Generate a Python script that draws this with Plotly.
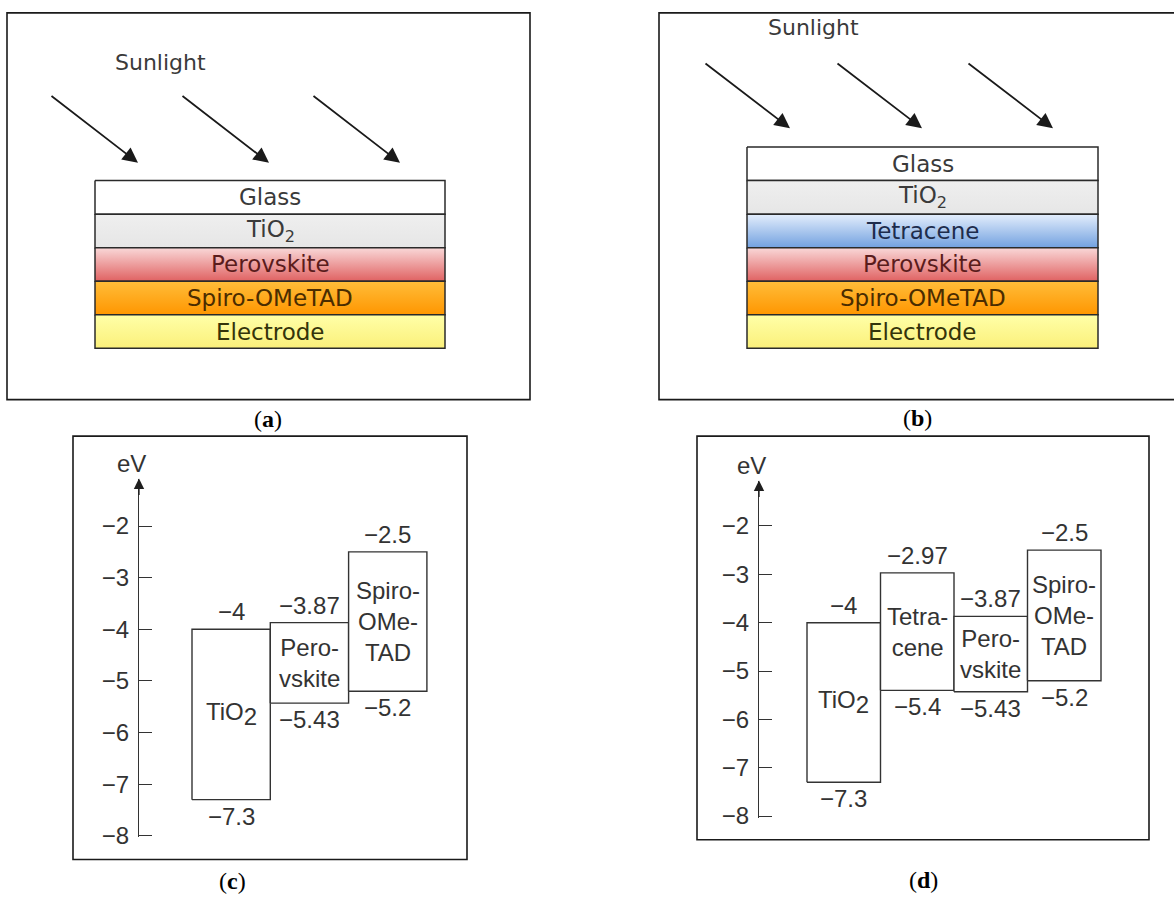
import plotly.graph_objects as go

W, H = 1174, 907

# ---------------- data ----------------
stack_a = ["Glass", "TiO2", "Perovskite", "Spiro-OMeTAD", "Electrode"]
stack_b = ["Glass", "TiO2", "Tetracene", "Perovskite", "Spiro-OMeTAD", "Electrode"]

materials_c = ["TiO2", "Perovskite", "Spiro-OMeTAD"]
lumo_c = [-4.0, -3.87, -2.5]
homo_c = [-7.3, -5.43, -5.2]

materials_d = ["TiO2", "Tetracene", "Perovskite", "Spiro-OMeTAD"]
lumo_d = [-4.0, -2.97, -3.87, -2.5]
homo_d = [-7.3, -5.4, -5.43, -5.2]

energy_ticks = [-8, -7, -6, -5, -4, -3, -2]
energy_unit = "eV"
sun_label = "Sunlight"
panel_tags = ["a", "b", "c", "d"]

# ---------------- styles ----------------
# (top colour, bottom colour) of each layer's vertical gradient
LAYER_FILL = {
    "Glass": ("#ffffff", "#ffffff"),
    "TiO2": ("#efefef", "#e6e6e6"),
    "Tetracene": ("#e4eefc", "#72a1e0"),
    "Perovskite": ("#f9d8d8", "#e06262"),
    "Spiro-OMeTAD": ("#ffbd3a", "#ff9600"),
    "Electrode": ("#ffffa8", "#fbf07a"),
}
LAYER_INK = {
    "Glass": "#3a3a3a",
    "TiO2": "#3a3a3a",
    "Tetracene": "#1d2c4c",
    "Perovskite": "#5a1c1c",
    "Spiro-OMeTAD": "#4a2c00",
    "Electrode": "#34340a",
}
LAYER_TEXT = {"TiO2": "TiO<sub>2</sub>"}
BOX_TEXT = {
    "TiO2": "TiO<sub><span style='font-size:24px'>2</span></sub>",
    "Tetracene": "Tetra-<br>cene",
    "Perovskite": "Pero-<br>vskite",
    "Spiro-OMeTAD": "Spiro-<br>OMe-<br>TAD",
}
SANS = "Liberation Sans, Arial, sans-serif"
WIDE = "DejaVu Sans, sans-serif"
SERIF = "Liberation Serif, Times New Roman, serif"
INK = "#333333"


def fx(px):
    return px / W


def fy(py):
    return 1 - py / H


def minus(v):
    return f"{v:g}".replace("-", "\u2212")


fig = go.Figure()
layout = dict(
    width=W, height=H, margin=dict(l=0, r=0, t=0, b=0),
    paper_bgcolor="white", plot_bgcolor="rgba(0,0,0,0)",
    showlegend=False, shapes=[], annotations=[],
)


def add_stack(names, idx, left, right, top, bottom):
    """Layered device cross-section; row i spans [i, i+1] on a reversed axis."""
    n = len(names)
    pad = 3
    sx = (right - left)
    sy = (bottom - top) / n
    layout[f"xaxis{idx}"] = dict(domain=[fx(left - pad), fx(right + pad)],
                                 range=[-pad / sx, 1 + pad / sx], visible=False,
                                 anchor=f"y{idx}")
    layout[f"yaxis{idx}"] = dict(domain=[fy(bottom + pad), fy(top - pad)],
                                 range=[n + pad / sy, -pad / sy], visible=False,
                                 anchor=f"x{idx}")
    for i, name in enumerate(names):
        c_top, c_bot = LAYER_FILL[name]
        fig.add_trace(go.Scatter(
            x=[0, 1, 1, 0, 0], y=[i, i, i + 1, i + 1, i],
            mode="lines", fill="toself",
            fillgradient=dict(type="vertical", colorscale=[[0, c_bot], [1, c_top]]),
            line=dict(color="#2a2a2a", width=1.5),
            xaxis=f"x{idx}", yaxis=f"y{idx}", hoverinfo="skip",
        ))
        layout["annotations"].append(dict(
            x=0.5, y=i + 0.5, xref=f"x{idx}", yref=f"y{idx}",
            xanchor="center", yanchor="middle",
            text=LAYER_TEXT.get(name, name), showarrow=False,
            font=dict(family=WIDE, size=23, color=LAYER_INK[name]),
        ))


def add_sun(label_x, label_y, heads, dx, dy):
    layout["annotations"].append(dict(
        x=fx(label_x), y=fy(label_y), xref="paper", yref="paper",
        xanchor="center", yanchor="middle",
        text=sun_label, showarrow=False,
        font=dict(family=WIDE, size=22, color="#3a3a3a"),
    ))
    for hx, hy in heads:
        layout["annotations"].append(dict(
            x=fx(hx), y=fy(hy), xref="paper", yref="paper", text="",
            showarrow=True, ax=dx, ay=dy, arrowhead=2, arrowsize=1.7,
            arrowwidth=1.8, arrowcolor="#1a1a1a",
        ))


def add_levels(materials, lumo, homo, idx, axis_px, first_px, box_w,
               right_px, ybot_px, ytop_px, y_top_val):
    """Energy-level diagram: each material is a box from HOMO to LUMO."""
    x0 = -(first_px - axis_px) / box_w
    x1 = (right_px - first_px) / box_w
    y_low = -8.03
    y_scale = (ybot_px - ytop_px) / (y_top_val + 8)
    yr = [y_low, y_top_val]
    layout[f"xaxis{idx}"] = dict(domain=[fx(axis_px), fx(right_px)], range=[x0, x1],
                                 visible=False, anchor=f"y{idx}")
    layout[f"yaxis{idx}"] = dict(
        domain=[fy(ybot_px + (-8 - y_low) * y_scale), fy(ytop_px)], range=yr,
        anchor=f"x{idx}",
        showline=True, linecolor=INK, linewidth=1.3, showgrid=False, zeroline=False,
        ticks="inside", ticklen=13, tickwidth=1.3, tickcolor=INK,
        tickvals=energy_ticks, ticklabelstandoff=4,
        tickfont=dict(family=SANS, size=24, color=INK),
    )
    for i, (name, lo, hi) in enumerate(zip(materials, lumo, homo)):
        fig.add_trace(go.Scatter(
            x=[i, i + 1, i + 1, i, i], y=[hi, hi, lo, lo, hi],
            mode="lines", fill="toself", fillcolor="white",
            line=dict(color=INK, width=1.4),
            xaxis=f"x{idx}", yaxis=f"y{idx}", hoverinfo="skip",
        ))
        ref = dict(xref=f"x{idx}", yref=f"y{idx}", showarrow=False, xanchor="center",
                   font=dict(family=SANS, size=24, color=INK))
        layout["annotations"].append(dict(x=i + 0.5, y=(lo + hi) / 2, yanchor="middle",
                                          text=BOX_TEXT[name], **ref))
        layout["annotations"].append(dict(x=i + 0.5, y=lo, text=minus(lo),
                                          yanchor="bottom", yshift=2, **ref))
        layout["annotations"].append(dict(x=i + 0.5, y=hi, text=minus(hi),
                                          yanchor="top", yshift=-1, **ref))
    # axis arrowhead and unit
    layout["annotations"].append(dict(
        x=x0, y=y_top_val, xref=f"x{idx}", yref=f"y{idx}", text="",
        showarrow=True, ax=0, ay=18, arrowhead=2, arrowsize=1.6,
        arrowwidth=1.3, arrowcolor="#1e1e1e",
    ))
    layout["annotations"].append(dict(
        x=x0, y=y_top_val, xref=f"x{idx}", yref=f"y{idx}", text=energy_unit,
        showarrow=False, xanchor="center", yanchor="bottom", yshift=0, xshift=-8,
        font=dict(family=SANS, size=24, color=INK),
    ))


# (a) and (b): device stacks
add_stack(stack_a, 1, 95, 445, 183, 353)
add_stack(stack_b, 2, 747, 1098, 149, 353)
add_sun(160, 63, [(138, 165), (269, 165), (400, 165)], -88, -68)
add_sun(813, 28, [(790, 130), (922, 130), (1053, 130)], -86, -66)

# (c) and (d): energy levels
add_levels(materials_c, lumo_c, homo_c, 3, 139, 192, 78.3, 460, 847, 485, -1.08)
add_levels(materials_d, lumo_d, homo_d, 4, 759, 807, 73.5, 1125, 827, 487, -1.06)

# panel frames
frames = [(7, 13, 530, 405), (659, 13, 1190, 405), (73, 442, 467, 871), (697, 442, 1149, 851)]
for l, t, r, b in frames:
    layout["shapes"].append(dict(
        type="rect", xref="paper", yref="paper",
        x0=fx(l), x1=fx(r), y0=fy(b), y1=fy(t),
        line=dict(color="#1a1a1a", width=1.6), fillcolor="rgba(0,0,0,0)", layer="below",
    ))

# panel tags
tag_pos = [(268, 425), (917, 424), (233, 893), (924, 892)]
for tag, (px, py) in zip(panel_tags, tag_pos):
    layout["annotations"].append(dict(
        x=fx(px), y=fy(py), xref="paper", yref="paper", showarrow=False,
        xanchor="center", yanchor="middle",
        text=f"(<b>{tag}</b>)", font=dict(family=SERIF, size=24, color="black"),
    ))

layout["xaxis"] = layout.pop("xaxis1")
layout["yaxis"] = layout.pop("yaxis1")
for t in fig.data:
    if t.xaxis == "x1":
        t.xaxis = "x"
    if t.yaxis == "y1":
        t.yaxis = "y"
for a in layout["annotations"]:
    if a.get("xref") == "x1":
        a["xref"] = "x"
    if a.get("yref") == "y1":
        a["yref"] = "y"

fig.update_layout(**layout)
fig.write_html("out.html")
